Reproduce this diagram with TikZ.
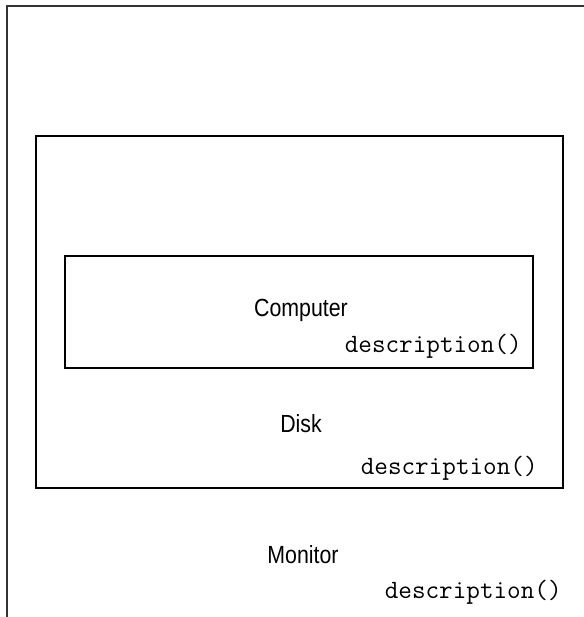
\documentclass[tikz,border=0pt]{standalone}
\usepackage{fontspec}
\newfontfamily\labelfont[FakeStretch=0.86]{Liberation Sans}
\begin{document}
\begin{tikzpicture}[
        x=0.5pt, y=-0.5pt,
        classname/.style={anchor=base, inner sep=0pt, font=\labelfont\fontsize{12.4}{15}\selectfont},
        method/.style={anchor=base east, inner sep=0pt, font=\ttfamily\fontsize{13.2}{15}\selectfont}
    ]
        \useasboundingbox (0,0) rectangle (584,617);
        \clip (0,0) rectangle (584,617);

        % Nested wrapper boxes
        \draw[line width=1pt, black!80] (7,6) rectangle (620,660);
        \draw[line width=0.75pt] (36,136) rectangle (563,488);
        \draw[line width=0.75pt] (65,256) rectangle (533,368);

        % Innermost object
        \node[classname] (computer) at (301,316) {Computer};
        \node[method] (computerdesc) at (522,352) {description()};

        % Middle wrapper
        \node[classname] (disk) at (301,432) {Disk};
        \node[method] (diskdesc) at (538,474) {description()};

        % Outer wrapper
        \node[classname] (monitor) at (303,563) {Monitor};
        \node[method] (monitordesc) at (562,598) {description()};
    \end{tikzpicture}
\end{document}
